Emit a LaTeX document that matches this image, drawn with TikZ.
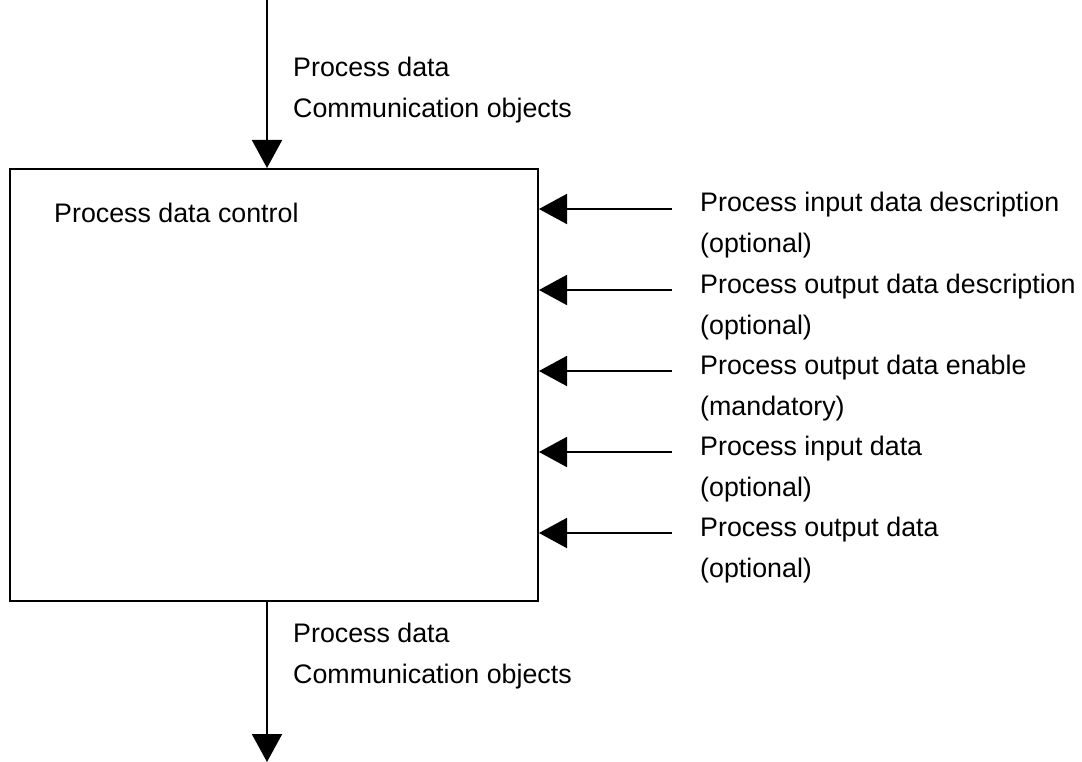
\documentclass[tikz,border=0pt]{standalone}
\usepackage{fontspec}
\setmainfont{Liberation Sans}
\usetikzlibrary{arrows.meta}
\begin{document}
\begin{tikzpicture}[x=1pt,y=-1pt,
  conn/.style={line width=2pt,-{Triangle[width=30pt,length=28pt]}},
  lbl/.style={anchor=base west,inner sep=0pt,font=\fontsize{26.8}{41}\selectfont,align=left},
  mainbox/.style={draw,line width=2pt,minimum width=528pt,minimum height=432pt,inner sep=0pt}]
\useasboundingbox (0,0) rectangle (1082,762);
\node[mainbox] (box) at (274,385) {};
\node[lbl] (title) at (54,223) {Process data control};
\coordinate (topin) at (267,0);
\coordinate (botout) at (267,762);
\draw[conn] (topin) -- (box.north -| topin);
\draw[conn] (box.south -| botout) -- (botout);
\node[lbl] (toplbl) at (293,118) {Process data\\Communication objects};
\node[lbl] (botlbl) at (293,683) {Process data\\Communication objects};
\foreach \i/\y/\t/\s in {1/209/Process input data description/(optional),
                         2/290/Process output data description/(optional),
                         3/371/Process output data enable/(mandatory),
                         4/452/Process input data/(optional),
                         5/533/Process output data/(optional)}{
  \coordinate (s\i) at (672,\y);
  \draw[conn] (s\i) -- (s\i -| box.east);
  \node[lbl] (l\i) at (700,\y+44) {\t\\\s};
}
\end{tikzpicture}
\end{document}
